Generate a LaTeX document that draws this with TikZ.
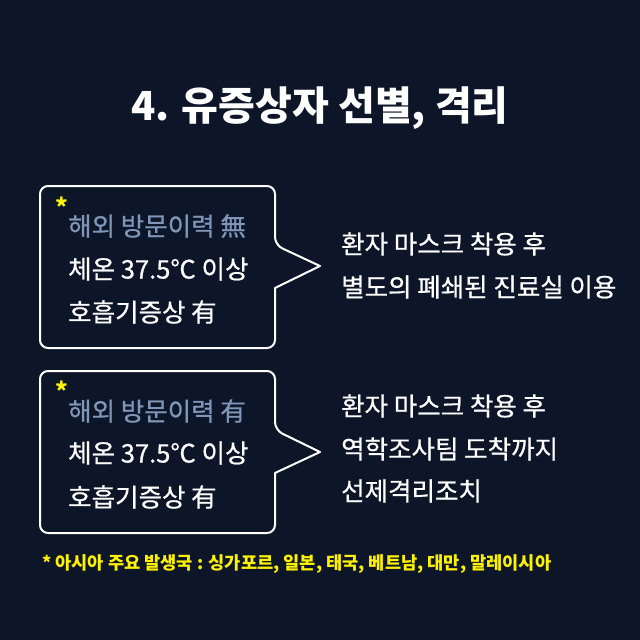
\documentclass[tikz,border=0pt]{standalone}
\usepackage{fontspec}
\setmainfont{Noto Sans CJK KR}
\newfontfamily\medfont{Noto Sans CJK KR}[FakeBold=0.7]
\usepackage{tikz}
\usetikzlibrary{positioning}
\definecolor{navy}{HTML}{0D1628}
\definecolor{mutedblue}{HTML}{8096B8}
\definecolor{hiyellow}{HTML}{FFF200}
\tikzset{
  bubble/.style={draw=white, line width=2pt, line join=round},
  line/.style={anchor=west, inner sep=0pt, text=white, font=\medfont\fontsize{25.5}{28}\selectfont},
  muted/.style={line, text=mutedblue},
  star/.style={inner sep=0pt, text=hiyellow, font=\bfseries\fontsize{24}{24}\selectfont},
  note/.style={anchor=west, inner sep=0pt, text=hiyellow, font=\bfseries\fontsize{17.6}{20}\selectfont},
}
\begin{document}
\begin{tikzpicture}[x=1pt,y=-1pt]
\fill[navy] (0,0) rectangle (640,640);
\useasboundingbox (0,0) rectangle (640,640);
\node[text=white, font=\bfseries\fontsize{40}{44}\selectfont, inner sep=0pt] (title) at (320,108) {4. 유증상자 선별, 격리};
% first bubble: no travel history
\draw[bubble, rounded corners=8pt] (40,267) -- (40,186) -- (275,186) -- (275,245) [sharp corners] -- (320,266) -- (275,288) [rounded corners=8pt] -- (275,348) -- (40,348) -- cycle;
\node[star] (s1) at (62,207) {*};
\node[muted] (a1) at (68,226) {해외 방문이력 無};
\node[line] (a2) at (68,269) {체온 37.5℃ 이상};
\node[line] (a3) at (68,312) {호흡기증상 有};
\node[line] (r1) at (341,244) {환자 마스크 착용 후};
\node[line] (r2) at (341,287) {별도의 폐쇄된 진료실 이용};
% second bubble: travel history
\draw[bubble, rounded corners=8pt] (40,452) -- (40,371) -- (275,371) -- (275,430) [sharp corners] -- (320,452) -- (275,473) [rounded corners=8pt] -- (275,533) -- (40,533) -- cycle;
\node[star] (s2) at (62,391) {*};
\node[muted] (b1) at (68,411) {해외 방문이력 有};
\node[line] (b2) at (68,453) {체온 37.5℃ 이상};
\node[line] (b3) at (68,497) {호흡기증상 有};
\node[line] (q1) at (341,406) {환자 마스크 착용 후};
\node[line] (q2) at (341,449) {역학조사팀 도착까지};
\node[line] (q3) at (341,491) {선제격리조치};
% footnote
\node[note] (fn) at (42,564) {* 아시아 주요 발생국 : 싱가포르, 일본, 태국, 베트남, 대만, 말레이시아};
\end{tikzpicture}
\end{document}
